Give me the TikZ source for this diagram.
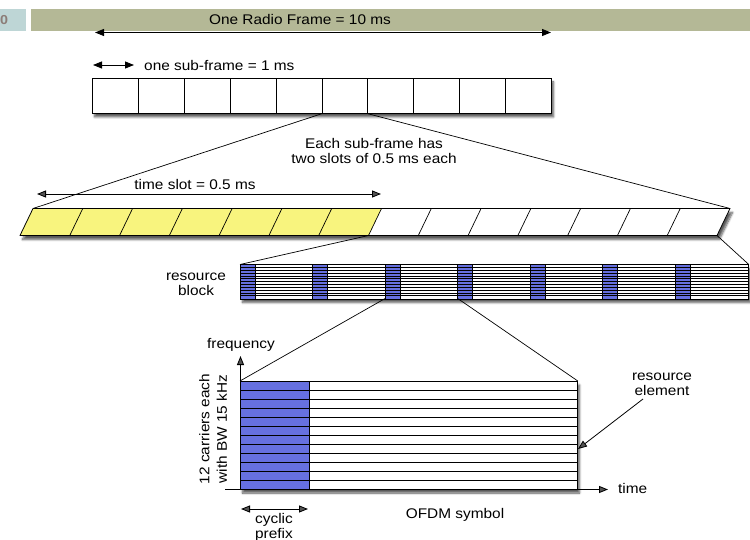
\documentclass[tikz,border=0pt]{standalone}
\usepackage{fontspec}
\setmainfont{Liberation Sans}[FakeStretch=1.1]
\usetikzlibrary{shadows.blur,arrows.meta}
\definecolor{bannerc}{RGB}{180,184,150}
\definecolor{tabgray}{RGB}{190,214,214}
\definecolor{numc}{RGB}{140,125,120}
\definecolor{rbblue}{RGB}{102,112,224}
\definecolor{slotyel}{RGB}{248,244,126}
\begin{document}
\begin{tikzpicture}[x=1pt,y=-1pt,font=\fontsize{14}{15}\selectfont,
  tip/.tip={Triangle[length=9pt,width=7pt]},
  arr/.style={-tip,line width=0.8pt},
  dblarr/.style={tip-tip,line width=0.8pt},
  lbl/.style={inner sep=0pt,align=center},
  cell/.style={draw,line width=0.8pt,minimum width=45.9pt,minimum height=35pt,inner sep=0pt,anchor=north west},
  shad/.style={blur shadow={shadow xshift=2.5pt,shadow yshift=-4pt,shadow blur steps=7,shadow opacity=65}},
  conn/.style={line width=0.7pt},
  thin/.style={line width=0.7pt}]
\useasboundingbox (0,0) rectangle (750,540);

% header
\node[fill=tabgray,minimum width=26pt,minimum height=22pt,inner sep=0pt,anchor=north west] (tab) at (0,9) {};
\node[lbl,font=\fontsize{13}{14}\selectfont\bfseries,text=numc] (num) at (4,20) {0};
\node[fill=bannerc,minimum width=719pt,minimum height=22pt,inner sep=0pt,anchor=north west] (banner) at (31,9) {};
\node[lbl] (title) at (300,19) {One Radio Frame = 10 ms};
\coordinate (rfL) at (95,32.5);
\coordinate (rfR) at (551,32.5);
\draw[dblarr] (rfL) -- (rfR);

% sub-frame row
\coordinate (sfaL) at (93,65);
\coordinate (sfaR) at (134,65);
\draw[dblarr] (sfaL) -- (sfaR);
\node[lbl,anchor=west] (sflbl) at (144,65) {one sub-frame = 1 ms};
\fill[white,shad] (92,78) rectangle (551,113);
\foreach \i in {1,...,10} \node[cell] (sf\i) at ({92+(\i-1)*45.9},78) {};
\node[lbl] (eachlbl) at (374,151) {Each sub-frame has\\two slots of 0.5 ms each};

% slot row
\coordinate (stl) at (33,208.5);
\coordinate (sbl) at (20,235.5);
\coordinate (str) at (730,208.5);
\coordinate (sbr) at (717,235.5);
\coordinate (stm) at (381.5,208.5);
\coordinate (sbm) at (368.5,235.5);
\fill[white,shad] (stl) -- (str) -- (sbr) -- (sbl) -- cycle;
\fill[slotyel] (stl) -- (stm) -- (sbm) -- (sbl) -- cycle;
\foreach \i in {1,...,13} \draw[thin] ({33+\i*49.786},208.5) -- ({20+\i*49.786},235.5);
\draw[line width=0.8pt,line join=round] (stl) -- (str) -- (sbr) -- (sbl) -- cycle;
\draw[conn] (sf6.south west) -- (stl);
\draw[conn] (sf6.south east) -- (str);
\coordinate (tsL) at (37,194);
\coordinate (tsR) at (381,194);
\draw[dblarr] (tsL) -- (tsR);
\node[lbl] (tslbl) at (195,184) {time slot = 0.5 ms};

% resource block row
\fill[white,shad] (240,264.5) rectangle (748,298.5);
\foreach \i in {0,...,6} \fill[rbblue] ({240+\i*72.571},264.5) rectangle +(15,34);
\foreach \k in {1,...,11} \draw[line width=0.6pt] (240,{264.5+\k*34/12}) -- (748,{264.5+\k*34/12});
\foreach \i in {0,...,6} {
  \draw[line width=0.8pt] ({240+\i*72.571},264.5) -- +(0,34);
  \draw[line width=0.8pt] ({255+\i*72.571},264.5) -- +(0,34);
}
\node[draw,line width=0.8pt,minimum width=508pt,minimum height=34pt,inner sep=0pt,anchor=north west] (rb) at (240,264.5) {};
\node[lbl] (rblbl) at (196,284) {resource\\block};
\draw[conn] (sbm) -- (rb.north west);
\draw[conn] (sbr) -- (rb.north east);
\coordinate (rbs3) at (385.1,298.5);
\coordinate (rbs4) at (457.7,298.5);

% resource grid
\fill[white,shad] (240,381) rectangle (577,489);
\fill[rbblue] (240,381) rectangle (309,489);
\foreach \k in {1,...,11} \draw[thin] (240,{381+\k*9}) -- (577,{381+\k*9});
\draw[line width=0.8pt] (309,381) -- (309,489);
\node[draw,line width=0.8pt,minimum width=337pt,minimum height=108pt,inner sep=0pt,anchor=north west] (grid) at (240,381) {};
\draw[conn] (rbs3) -- (grid.north west);
\draw[conn] (rbs4) -- (grid.north east);

% axes
\coordinate (fB) at (240.5,490);
\coordinate (fT) at (240.5,356);
\draw[arr] (fB) -- (fT);
\coordinate (tL) at (225,489.5);
\coordinate (tR) at (608,489.5);
\draw[arr] (tL) -- (tR);
\node[lbl] (freqlbl) at (241,345) {frequency};
\node[lbl,anchor=west] (timelbl) at (618,488) {time};
\node[lbl,rotate=90,font=\fontsize{14}{17.5}\selectfont] (carlbl) at (213,429) {12 carriers each\\with BW 15 kHz};

% cyclic prefix
\coordinate (cpL) at (241,509);
\coordinate (cpR) at (308,509);
\draw[dblarr] (cpL) -- (cpR);
\node[lbl] (cplbl) at (274,527) {cyclic\\prefix};
\node[lbl] (ofdmlbl) at (455,515) {OFDM symbol};

% resource element
\node[lbl] (relbl) at (662,384) {resource\\element};
\coordinate (reA) at (643,399);
\coordinate (reB) at (578,449);
\draw[arr] (reA) -- (reB);
\end{tikzpicture}
\end{document}
